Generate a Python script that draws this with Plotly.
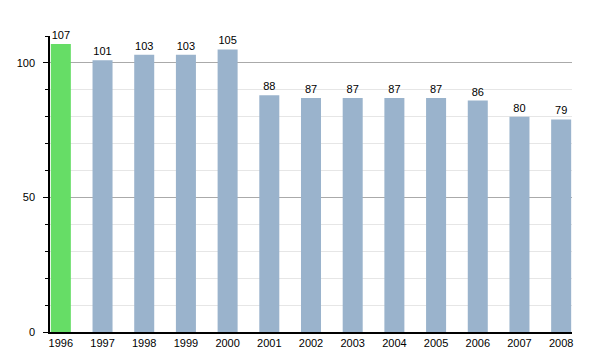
import plotly.graph_objects as go

years = ["1996", "1997", "1998", "1999", "2000", "2001", "2002", "2003", "2004", "2005", "2006", "2007", "2008"]
values = [107, 101, 103, 103, 105, 88, 87, 87, 87, 87, 86, 80, 79]
colors = ["#66dd66"] + ["#9ab3cc"] * (len(years) - 1)

fig = go.Figure(go.Bar(
    x=years, y=values, marker=dict(color=colors, line=dict(width=0)),
    text=[str(v) for v in values], textposition="outside",
    textfont=dict(size=11, color="#000000", family="Liberation Sans, Arial"),
    cliponaxis=False,
))

fig.update_layout(
    width=600, height=350,
    margin=dict(l=50, r=28, t=36, b=18),
    paper_bgcolor="white", plot_bgcolor="white",
    bargap=0.52, showlegend=False,
    font=dict(family="Liberation Sans, Arial", size=11, color="#000000"),
)
fig.update_xaxes(
    type="category", range=[-0.26, 12.26], automargin=False,
    showline=True, linecolor="#000000", linewidth=1.5,
    ticks="", showgrid=False, tickfont=dict(size=11, color="#000000"), ticklabelstandoff=0,
)
fig.update_yaxes(
    range=[0, 110], tickvals=[0, 50, 100], automargin=False,
    showline=True, linecolor="#000000", linewidth=1.5,
    ticks="outside", ticklen=5, tickcolor="#000000", showgrid=True, gridcolor="#aaaaaa", gridwidth=1,
    zeroline=False, tickfont=dict(size=11, color="#000000"), ticklabelstandoff=6,
    minor=dict(tickvals=[10, 20, 30, 40, 60, 70, 80, 90, 110], ticks="outside", ticklen=3, tickcolor="#000000",
               showgrid=True, gridcolor="#e6e6e6", gridwidth=1),
)

fig.write_html("out.html")
